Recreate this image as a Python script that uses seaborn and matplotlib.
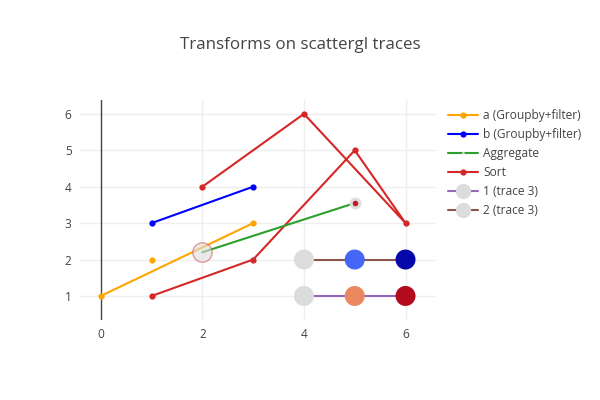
import numpy as np
import pandas as pd
import matplotlib
matplotlib.use("Agg")
import matplotlib.pyplot as plt
from matplotlib.lines import Line2D
import seaborn as sns

# ---- data ----
a_x = [0, 3]
a_y = [1, 3]
a_lone_x = [1]
a_lone_y = [2]

b_x = [1, 3]
b_y = [3, 4]

agg_x = [2, 5]
agg_y = [2.2, 3.55]

sort_x = [1, 3, 5, 6, 4, 2]
sort_y = [1, 2, 5, 3, 6, 4]

t1_x = [4, 5, 6]
t1_y = [1, 1, 1]
t1_colors = ["#dcdcdc", "#ea895f", "#b20a1f"]

t2_x = [4, 5, 6]
t2_y = [2, 2, 2]
t2_colors = ["#dcdcdc", "#4666f5", "#0507a8"]

legend_labels = ["a (Groupby+filter)", "b (Groupby+filter)", "Aggregate",
                 "Sort", "1 (trace 3)", "2 (trace 3)"]

x_ticks = [0, 2, 4, 6]
y_ticks = [1, 2, 3, 4, 5, 6]

# ---- style ----
sns.set_theme(style="white")
plt.rcParams["font.family"] = ["Open Sans", "DejaVu Sans"]
TXT = "#444444"

ORANGE = "#ffa500"
BLUE = "#0000ff"
GREEN = "#2ca02c"
RED = "#d62728"
PURPLE = "#9467bd"
BROWN = "#8c564b"

LW = 1.5
MS = 4.5
BIG = 14.4

fig = plt.figure(figsize=(6, 4), dpi=100)
ax = fig.add_axes([80 / 600, 80 / 400, 356 / 600, 220 / 400])

# gridlines
for xv in x_ticks:
    if xv != 0:
        ax.axvline(xv, color="#eeeeee", lw=1, zorder=0)
for yv in y_ticks:
    ax.axhline(yv, color="#eeeeee", lw=1, zorder=0)
# zero line
ax.axvline(0, color=TXT, lw=1, zorder=1)

# trace 3 lines with colored markers
sns.lineplot(x=t1_x, y=t1_y, color=PURPLE, lw=LW, ax=ax, zorder=2, sort=False)
sns.scatterplot(x=t1_x, y=t1_y, hue=t1_x, palette=t1_colors, s=BIG ** 2,
                linewidth=0, legend=False, ax=ax, zorder=3)
sns.lineplot(x=t2_x, y=t2_y, color=BROWN, lw=LW, ax=ax, zorder=2, sort=False)
sns.scatterplot(x=t2_x, y=t2_y, hue=t2_x, palette=t2_colors, s=BIG ** 2,
                linewidth=0, legend=False, ax=ax, zorder=3)

# a (Groupby+filter)
sns.lineplot(x=a_x, y=a_y, color=ORANGE, lw=LW, marker="o", markersize=MS,
             markeredgewidth=0, ax=ax, zorder=4, sort=False)
sns.scatterplot(x=a_lone_x, y=a_lone_y, color=ORANGE, s=MS ** 2, linewidth=0,
                ax=ax, zorder=4)

# b (Groupby+filter)
sns.lineplot(x=b_x, y=b_y, color=BLUE, lw=LW, marker="o", markersize=MS,
             markeredgewidth=0, ax=ax, zorder=4, sort=False)

# Aggregate
sns.lineplot(x=agg_x, y=agg_y, color=GREEN, lw=LW, ax=ax, zorder=5, sort=False)
ax.scatter(agg_x[:1], agg_y[:1], s=14 ** 2, color="#dddddd", alpha=0.6,
           edgecolors="#d06060", linewidths=1.0, zorder=6)
ax.scatter(agg_x[1:], agg_y[1:], s=8.5 ** 2, color="#dddddd", linewidths=0,
           zorder=6)
ax.scatter(agg_x[1:], agg_y[1:], s=4 ** 2, color="#c0182a", linewidths=0,
           zorder=7)

# Sort
sns.lineplot(x=sort_x, y=sort_y, color=RED, lw=LW, marker="o", markersize=MS,
             markeredgewidth=0, ax=ax, zorder=4, sort=False)

ax.set_xlim(-0.41, 6.6)
ax.set_ylim(0.34, 6.38)
ax.set_xticks(x_ticks)
ax.set_yticks(y_ticks)
ax.set_xticklabels([str(v) for v in x_ticks])
ax.set_yticklabels([str(v) for v in y_ticks])
ax.tick_params(axis="both", length=0, labelsize=8.6, labelcolor=TXT, pad=6)
for s in ax.spines.values():
    s.set_visible(False)
ax.grid(False)
ax.set_xlabel("")
ax.set_ylabel("")

fig.text(0.5, 1 - 45 / 400, "Transforms on scattergl traces", ha="center",
         va="center", fontsize=12.2, color=TXT)

handles = [
    Line2D([], [], color=ORANGE, lw=LW, marker="o", markersize=MS, markeredgewidth=0),
    Line2D([], [], color=BLUE, lw=LW, marker="o", markersize=MS, markeredgewidth=0),
    Line2D([], [], color=GREEN, lw=LW, marker="o", markersize=2, markeredgewidth=0,
           markerfacecolor="#dddddd"),
    Line2D([], [], color=RED, lw=LW, marker="o", markersize=MS, markeredgewidth=0),
    Line2D([], [], color=PURPLE, lw=LW, marker="o", markersize=11, markeredgewidth=0,
           markerfacecolor="#dcdcdc"),
    Line2D([], [], color=BROWN, lw=LW, marker="o", markersize=11, markeredgewidth=0,
           markerfacecolor="#dcdcdc"),
]
leg = fig.legend(handles, legend_labels, loc="upper left",
                 bbox_to_anchor=(448 / 600, 1 - 109 / 400), frameon=False,
                 fontsize=8.6, handlelength=2.5, handletextpad=0.45,
                 labelspacing=0.5, borderaxespad=0, borderpad=0)
for t in leg.get_texts():
    t.set_color(TXT)

fig.savefig("out.png", dpi=100)
